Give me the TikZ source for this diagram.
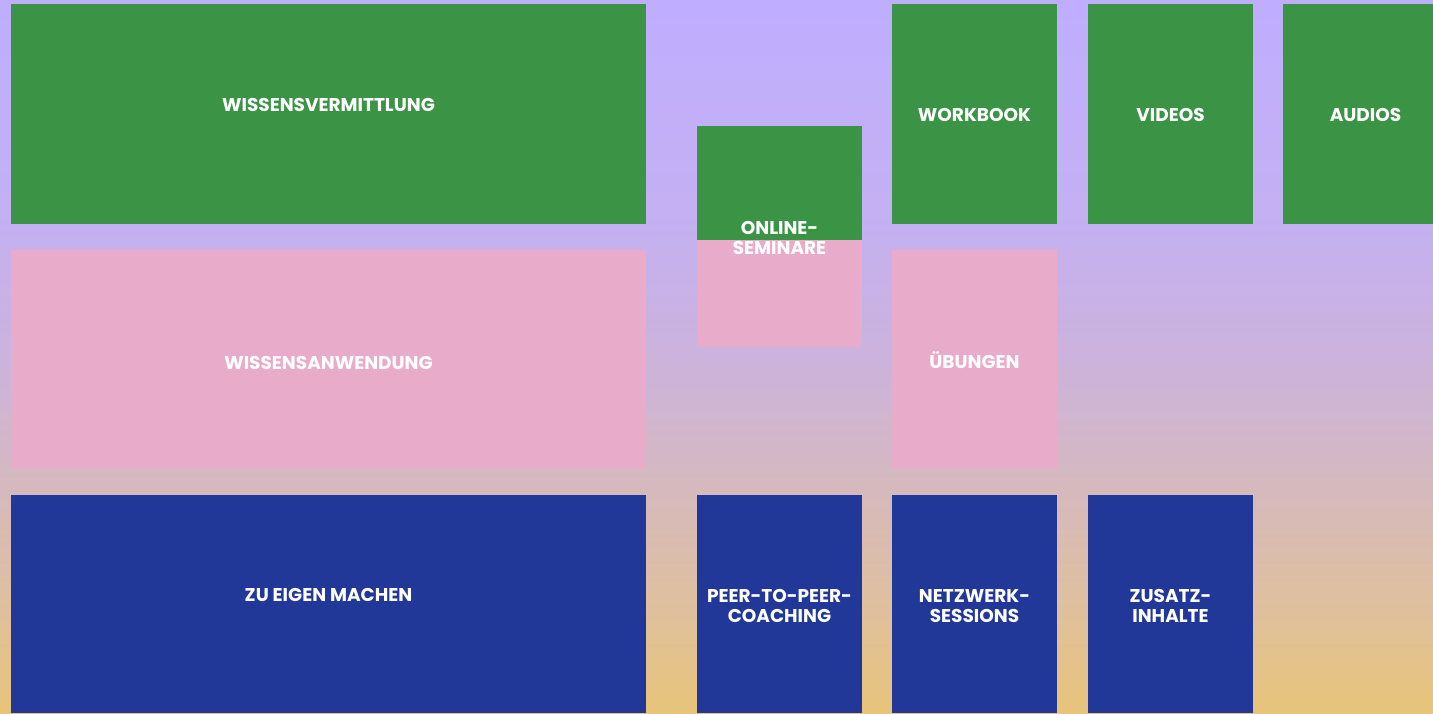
\documentclass[tikz,border=0pt]{standalone}
\usepackage{fontspec}
\setmainfont{Poppins}
\definecolor{bgA}{HTML}{BFAEFF}
\definecolor{bgB}{HTML}{C4B0F2}
\definecolor{bgC}{HTML}{CBB3DC}
\definecolor{bgD}{HTML}{D4B8C2}
\definecolor{bgE}{HTML}{DFC09E}
\definecolor{bgF}{HTML}{E8C47A}
\definecolor{gruen}{HTML}{3B9446}
\definecolor{rosa}{HTML}{E8ACCA}
\definecolor{blau}{HTML}{223898}
\pgfdeclareverticalshading{bgshade}{100bp}{color(0bp)=(bgF); color(25bp)=(bgF); color(32.5bp)=(bgE); color(42bp)=(bgD); color(50bp)=(bgC); color(60bp)=(bgB); color(75bp)=(bgA); color(100bp)=(bgA)}
\tikzset{
  box/.style={draw=none, inner sep=0pt, outer sep=0pt, rectangle},
  lbl/.style={text=white, font=\bfseries\fontsize{18.5}{20}\selectfont, align=center, inner sep=0pt},
}
\begin{document}
\begin{tikzpicture}[x=1pt,y=-1pt]
\useasboundingbox (0,0) rectangle (1433,713);
\shade[shading=bgshade] (0,0) rectangle (1433,713);
\begin{scope}
\clip (0,0) rectangle (1433,713);
% left column
\node[box, fill=gruen, minimum width=635pt, minimum height=220pt] (wv) at (328.5,114) {};
\node[box, fill=rosa, minimum width=635pt, minimum height=219pt] (wa) at (328.5,359.5) {};
\node[box, fill=blau, minimum width=635pt, minimum height=218pt] (ze) at (328.5,604) {};
% online seminare
\node[box, fill=gruen, minimum width=165pt, minimum height=114pt] (osg) at (779.5,183) {};
\node[box, fill=rosa, minimum width=165pt, minimum height=107pt] (osp) at (779.5,293.5) {};
% top row
\node[box, fill=gruen, minimum width=165pt, minimum height=220pt] (wb) at (974.5,114) {};
\node[box, fill=gruen, minimum width=165pt, minimum height=220pt] (vi) at (1170.5,114) {};
\node[box, fill=gruen, minimum width=165pt, minimum height=220pt] (au) at (1365.5,114) {};
% middle
\node[box, fill=rosa, minimum width=165pt, minimum height=219pt] (ub) at (974.5,359.5) {};
% bottom
\node[box, fill=blau, minimum width=165pt, minimum height=218pt] (pp) at (779.5,604) {};
\node[box, fill=blau, minimum width=165pt, minimum height=218pt] (nw) at (974.5,604) {};
\node[box, fill=blau, minimum width=165pt, minimum height=218pt] (zi) at (1170.5,604) {};
\end{scope}
% labels
\node[lbl] (twv) at (328.5,105) {WISSENSVERMITTLUNG};
\node[lbl] (twa) at (328.5,363) {WISSENSANWENDUNG};
\node[lbl] (tze) at (328.5,595) {ZU EIGEN MACHEN};
\node[lbl] (tos) at (779.5,238) {ONLINE-\\SEMINARE};
\node[lbl] (twb) at (974.5,115) {WORKBOOK};
\node[lbl] (tvi) at (1170.5,115) {VIDEOS};
\node[lbl] (tau) at (1365.5,115) {AUDIOS};
\node[lbl] (tub) at (974.5,360) {ÜBUNGEN};
\node[lbl] (tpp) at (779.5,606) {PEER-TO-PEER-\\COACHING};
\node[lbl] (tnw) at (974.5,606) {NETZWERK-\\SESSIONS};
\node[lbl] (tzi) at (1170.5,606) {ZUSATZ-\\INHALTE};
\end{tikzpicture}
\end{document}
